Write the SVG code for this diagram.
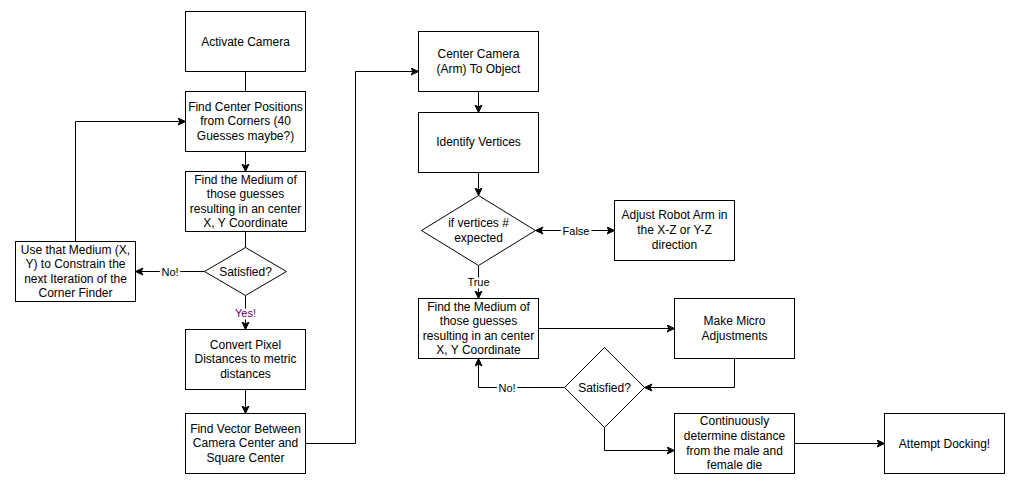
<svg xmlns="http://www.w3.org/2000/svg" width="1022" height="488" viewBox="0 0 1022 488">
  <style>
    .box { fill: #ffffff; stroke: #000000; stroke-width: 1; }
    .t { font-family: "Liberation Sans", Arial, sans-serif; font-size: 12px; fill: #000000; text-anchor: middle; }
    .lbl { font-family: "Liberation Sans", Arial, sans-serif; font-size: 11px; fill: #000000; text-anchor: middle; dominant-baseline: central; stroke: #ffffff; stroke-width: 5; paint-order: stroke; stroke-linejoin: round; }
    .edge { fill: none; stroke: #000000; stroke-width: 1; }
    .arr { marker-end: url(#ah); }
  </style>
  <defs>
    <marker id="ah" markerWidth="10" markerHeight="10" refX="8" refY="4" orient="auto-start-reverse" markerUnits="userSpaceOnUse">
      <path d="M0.5,0.5 L8,4 L0.5,7.5 L2.5,4 Z" fill="#000000" stroke="#000000" stroke-width="1"/>
    </marker>
  </defs>

  <rect width="1022" height="488" fill="#ffffff"/>

  <!-- connectors -->
  <g id="connectors">
    <path class="edge" d="M245.5,71.5 V91.5"/>
    <path class="edge arr" d="M245.5,151.5 V171.5"/>
    <path class="edge" d="M245.5,231.5 V247.5"/>
    <path class="edge arr" d="M204.5,271.5 H135.5"/>
    <path class="edge arr" d="M245.5,295.5 V329.5"/>
    <path class="edge arr" d="M75.5,241.5 V121.5 H185.5"/>
    <path class="edge arr" d="M245.5,389.5 V413.5"/>
    <path class="edge arr" d="M305.5,443.5 H355.5 V71.5 H418.5"/>
    <path class="edge arr" d="M478.5,91.5 V112.5"/>
    <path class="edge arr" d="M478.5,172.5 V195.5"/>
    <path class="edge arr" d="M535.5,230.5 H614.5" marker-start="url(#ah)"/>
    <path class="edge arr" d="M478.5,265.5 V298.5"/>
    <path class="edge arr" d="M538.5,328.5 H674.5"/>
    <path class="edge arr" d="M734.5,358.5 V387.5 H644.5"/>
    <path class="edge arr" d="M564.5,387.5 H478.5 V358.5"/>
    <path class="edge arr" d="M604.5,427.5 V450.5 H674.5"/>
    <path class="edge arr" d="M794.5,443.5 H884.5"/>

    <text class="lbl" x="170" y="272">No!</text>
    <text class="lbl" x="245.5" y="313" style="fill:#660066">Yes!</text>
    <text class="lbl" x="576" y="230.5">False</text>
    <text class="lbl" x="478.5" y="281.5">True</text>
    <text class="lbl" x="507" y="387.5">No!</text>
  </g>

  <!-- left column -->
  <g id="activate-camera">
    <rect class="box" x="185.5" y="11.5" width="120" height="60"/>
    <text class="t" x="245.5" y="45.5">Activate Camera</text>
  </g>
  <g id="find-center-positions">
    <rect class="box" x="185.5" y="91.5" width="120" height="60"/>
    <text class="t" x="245.5" y="111">Find Center Positions</text>
    <text class="t" x="245.5" y="125.4">from Corners (40</text>
    <text class="t" x="245.5" y="139.8">Guesses maybe?)</text>
  </g>
  <g id="find-medium-1">
    <rect class="box" x="185.5" y="171.5" width="120" height="60"/>
    <text class="t" x="245.5" y="183.9">Find the Medium of</text>
    <text class="t" x="245.5" y="198.3">those guesses</text>
    <text class="t" x="245.5" y="212.7">resulting in an center</text>
    <text class="t" x="245.5" y="227.1">X, Y Coordinate</text>
  </g>
  <g id="satisfied-1">
    <polygon class="box" points="245.5,247.5 286.5,271.5 245.5,295.5 204.5,271.5"/>
    <text class="t" x="245.5" y="276">Satisfied?</text>
  </g>
  <g id="constrain-next-iteration">
    <rect class="box" x="15.5" y="241.5" width="120" height="60"/>
    <text class="t" x="75.5" y="254">Use that Medium (X,</text>
    <text class="t" x="75.5" y="268.4">Y) to Constrain the</text>
    <text class="t" x="75.5" y="282.8">next Iteration of the</text>
    <text class="t" x="75.5" y="297.2">Corner Finder</text>
  </g>
  <g id="convert-pixel">
    <rect class="box" x="185.5" y="329.5" width="120" height="60"/>
    <text class="t" x="245.5" y="349">Convert Pixel</text>
    <text class="t" x="245.5" y="363.4">Distances to metric</text>
    <text class="t" x="245.5" y="377.8">distances</text>
  </g>
  <g id="find-vector">
    <rect class="box" x="185.5" y="413.5" width="120" height="60"/>
    <text class="t" x="245.5" y="433">Find Vector Between</text>
    <text class="t" x="245.5" y="447.4">Camera Center and</text>
    <text class="t" x="245.5" y="461.8">Square Center</text>
  </g>

  <!-- middle column -->
  <g id="center-camera">
    <rect class="box" x="418.5" y="31.5" width="120" height="60"/>
    <text class="t" x="478.5" y="58">Center Camera</text>
    <text class="t" x="478.5" y="72.8">(Arm) To Object</text>
  </g>
  <g id="identify-vertices">
    <rect class="box" x="418.5" y="112.5" width="120" height="60"/>
    <text class="t" x="478.5" y="146.3">Identify Vertices</text>
  </g>
  <g id="vertices-expected">
    <polygon class="box" points="478.5,195.5 535.5,230.5 478.5,265.5 421.5,230.5"/>
    <text class="t" x="478.5" y="226.6">if vertices #</text>
    <text class="t" x="478.5" y="241.6">expected</text>
  </g>
  <g id="adjust-robot-arm">
    <rect class="box" x="614.5" y="200.5" width="120" height="60"/>
    <text class="t" x="674.5" y="219.3">Adjust Robot Arm in</text>
    <text class="t" x="674.5" y="234">the X-Z or Y-Z</text>
    <text class="t" x="674.5" y="248.6">direction</text>
  </g>
  <g id="find-medium-2">
    <rect class="box" x="418.5" y="298.5" width="120" height="60"/>
    <text class="t" x="478.5" y="310.9">Find the Medium of</text>
    <text class="t" x="478.5" y="325.3">those guesses</text>
    <text class="t" x="478.5" y="339.7">resulting in an center</text>
    <text class="t" x="478.5" y="354.1">X, Y Coordinate</text>
  </g>
  <g id="satisfied-2">
    <polygon class="box" points="604.5,347.5 644.5,387.5 604.5,427.5 564.5,387.5"/>
    <text class="t" x="604.5" y="391.5">Satisfied?</text>
  </g>

  <!-- right side -->
  <g id="micro-adjustments">
    <rect class="box" x="674.5" y="298.5" width="120" height="60"/>
    <text class="t" x="734.5" y="325">Make Micro</text>
    <text class="t" x="734.5" y="339.6">Adjustments</text>
  </g>
  <g id="determine-distance">
    <rect class="box" x="674.5" y="413.5" width="120" height="60"/>
    <text class="t" x="734.5" y="425.3">Continuously</text>
    <text class="t" x="734.5" y="440.2">determine distance</text>
    <text class="t" x="734.5" y="454.6">from the male and</text>
    <text class="t" x="734.5" y="468.6">female die</text>
  </g>
  <g id="attempt-docking">
    <rect class="box" x="884.5" y="413.5" width="120" height="60"/>
    <text class="t" x="944.5" y="447.5">Attempt Docking!</text>
  </g>
</svg>
